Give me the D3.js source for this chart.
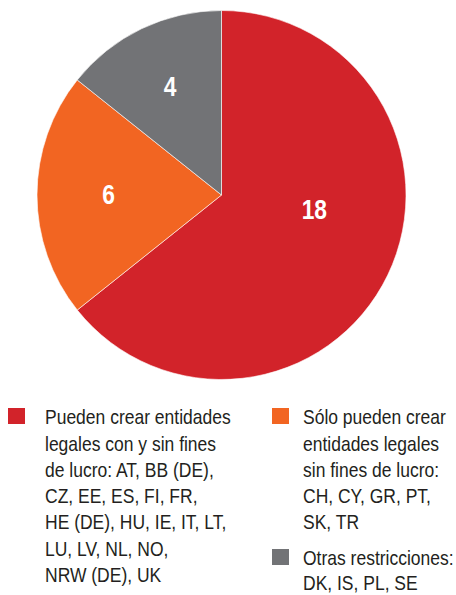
<!DOCTYPE html>
<html>
<head>
<meta charset="utf-8">
<script src="https://cdn.jsdelivr.net/npm/d3@7"></script>
<style>
  body { margin: 0; background: #fff; }
  text { font-family: "Liberation Sans", Arial, sans-serif; }
</style>
</head>
<body>
<div id="chart"></div>
<script>
// Data
const categories = ['conYsin', 'sinFines', 'otras']
const values = [18, 6, 4]
const colors = ['#d2232a', '#f26522', '#727376']

const legendLines = [
  ['Pueden crear entidades', 'legales con y sin fines', 'de lucro: AT, BB (DE),', 'CZ, EE, ES, FI, FR,', 'HE (DE), HU, IE, IT, LT,', 'LU, LV, NL, NO,', 'NRW (DE), UK'],
  ['Sólo pueden crear', 'entidades legales', 'sin fines de lucro:', 'CH, CY, GR, PT,', 'SK, TR'],
  ['Otras restricciones:', 'DK, IS, PL, SE']
]

// Canvas
const width = 456,
    height = 595,
    cx = 221.5,
    cy = 195,
    radius = 184.5,
    narrow = 0.845   // no narrow font installed, so squeeze the text

let svg = d3.select('#chart')
    .append('svg')
    .attr('width', width)
    .attr('height', height)

const pie = d3.pie().sort(null).value(d => d)
const arc = d3.arc().innerRadius(0).outerRadius(radius)

const g = svg.append('g').attr('transform', `translate(${cx},${cy})`)
const arcs = pie(values)

g.selectAll('path')
    .data(arcs)
    .enter()
    .append('path')
    .attr('d', arc)
    .attr('fill', (d, i) => colors[i])
    .attr('stroke', '#fff')
    .attr('stroke-width', 0.6)

// label positions: the big slice label sits nearer the top
const labelTweak = [{ r: 94, da: -0.29 }, { r: 113, da: 0 }, { r: 120, da: 0.005 }]
g.selectAll('g.val')
    .data(arcs)
    .enter()
    .append('g')
    .attr('class', 'val')
    .attr('transform', (d, i) => {
        const a = (d.startAngle + d.endAngle) / 2 + labelTweak[i].da
        return `translate(${Math.sin(a) * labelTweak[i].r},${-Math.cos(a) * labelTweak[i].r}) scale(${narrow},1)`
    })
    .append('text')
    .attr('dy', '0.35em')
    .attr('text-anchor', 'middle')
    .attr('fill', '#fff')
    .attr('font-weight', 'bold')
    .attr('font-size', 27)
    .text(d => d.data)

// Legend
const legendPos = [{ x: 8, y: 408, tx: 37 }, { x: 272, y: 408, tx: 31 }, { x: 272, y: 549, tx: 31 }]
const lineH = 26.3

legendLines.forEach((lines, i) => {
    const lg = svg.append('g').attr('transform', `translate(${legendPos[i].x},${legendPos[i].y})`)
    lg.append('rect')
        .attr('width', 17)
        .attr('height', 16)
        .attr('fill', colors[i])
    const t = lg.append('g')
        .attr('transform', `translate(${legendPos[i].tx},0) scale(${narrow},1)`)
        .append('text')
        .attr('font-size', 20.7)
        .attr('fill', '#231f20')
    lines.forEach((l, j) => {
        t.append('tspan')
            .attr('x', 0)
            .attr('y', 16.3 + j * (i === 2 ? lineH - 1.5 : lineH))
            .text(l)
    })
})
</script>
</body>
</html>
